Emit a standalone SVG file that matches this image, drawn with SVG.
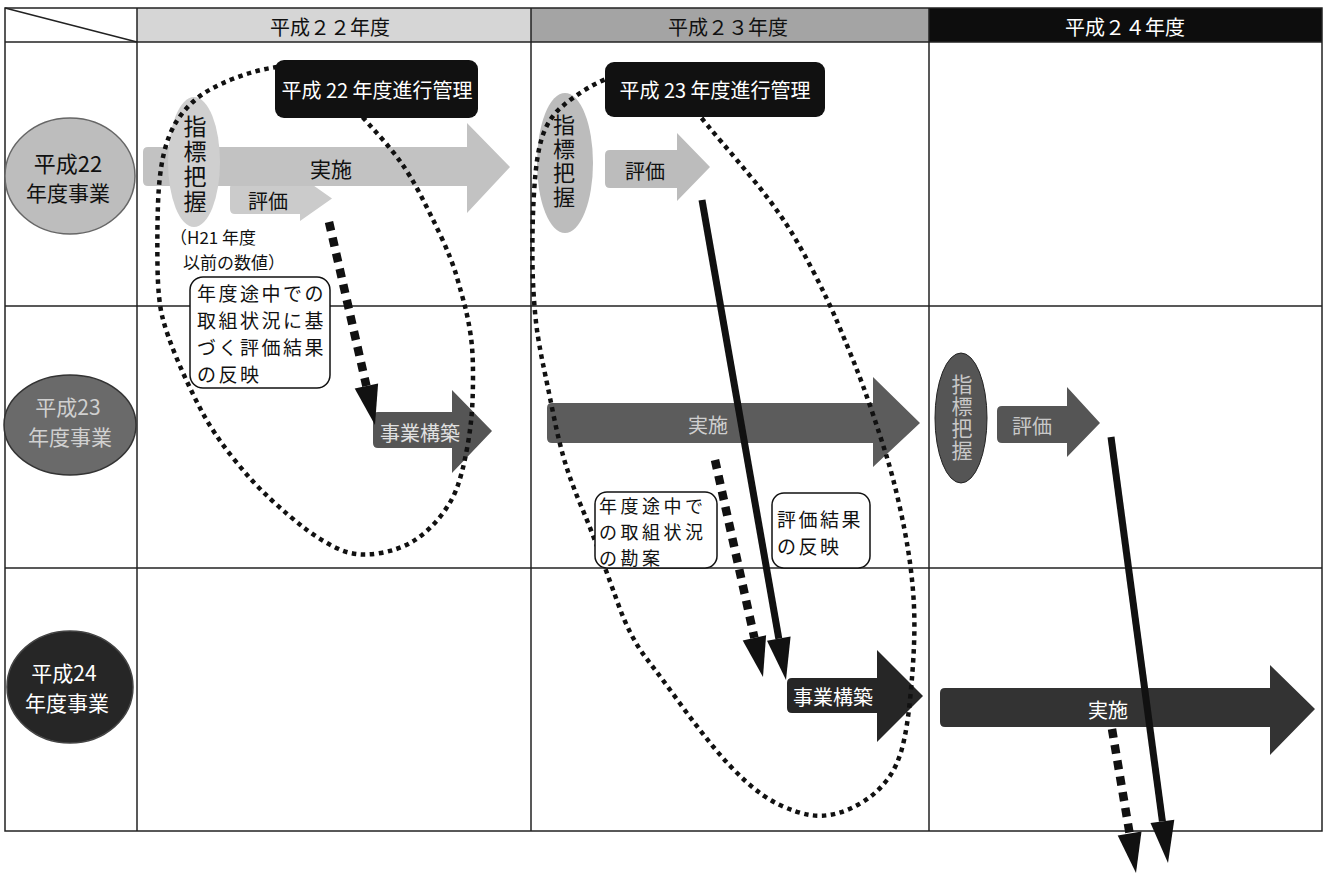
<svg xmlns="http://www.w3.org/2000/svg" width="1327" height="874" viewBox="0 0 1327 874">
<style>
text{font-family:"Noto Sans CJK JP","Noto Sans CJK SC",sans-serif;dominant-baseline:central}
.vert{writing-mode:vertical-rl;text-orientation:upright}
.grid{stroke:#222;stroke-width:1.5;fill:none}
.loop{fill:none;stroke:#111;stroke-width:4.5;stroke-dasharray:4.5 4.5}
.dash{stroke:#111;stroke-width:8.5;stroke-dasharray:9 7;fill:none}
.solid{stroke:#111;stroke-width:7;fill:none}
.head{fill:#111}
.callout{fill:#fff;stroke:#111;stroke-width:1.5}
.mgmt{fill:#111}
.t20{font-size:20px}
.t21{font-size:21px}
.c19{font-size:19px;letter-spacing:2.5px;fill:#111}
.c18{font-size:18px;letter-spacing:3.5px;fill:#111}
</style>
<rect x="0" y="0" width="1327" height="874" fill="#fff"/>
<g id="table">
<rect x="137" y="8" width="394" height="34" fill="#d6d6d6"/>
<rect x="531" y="8" width="398" height="34" fill="#a4a4a4"/>
<rect x="929" y="8" width="393" height="34" fill="#0d0d0d"/>
<rect x="5" y="8" width="1317" height="823" class="grid"/>
<line x1="5" y1="42" x2="1322" y2="42" class="grid"/>
<line x1="5" y1="306" x2="1322" y2="306" class="grid"/>
<line x1="5" y1="568" x2="1322" y2="568" class="grid"/>
<line x1="137" y1="8" x2="137" y2="831" class="grid"/>
<line x1="531" y1="8" x2="531" y2="831" class="grid"/>
<line x1="929" y1="8" x2="929" y2="831" class="grid"/>
<line x1="5" y1="8" x2="137" y2="42" class="grid"/>
<text x="330" y="26" text-anchor="middle" class="t20" fill="#111">平成２２年度</text>
<text x="728" y="26" text-anchor="middle" class="t20" fill="#111">平成２３年度</text>
<text x="1125" y="26" text-anchor="middle" class="t20" fill="#fff">平成２４年度</text>
</g>
<g id="row-h22">
<ellipse cx="70" cy="176" rx="65" ry="58" fill="#bdbdbd" stroke="#666" stroke-width="1.5"/>
<text x="68" y="162" text-anchor="middle" font-size="22" fill="#111">平成22</text>
<text x="68" y="192" text-anchor="middle" class="t21" fill="#111">年度事業</text>
</g>
<g id="row-h23">
<ellipse cx="70" cy="425" rx="66" ry="50" fill="#6a6a6a" stroke="#333" stroke-width="1.5"/>
<text x="68" y="406" text-anchor="middle" class="t21" fill="#d0d0d0">平成23</text>
<text x="70" y="436" text-anchor="middle" class="t21" fill="#d0d0d0">年度事業</text>
</g>
<g id="row-h24">
<ellipse cx="70" cy="687" rx="63" ry="56" fill="#262626" stroke="#444" stroke-width="1.5"/>
<text x="64" y="672" text-anchor="middle" class="t21" fill="#fff">平成24</text>
<text x="67" y="702" text-anchor="middle" class="t21" fill="#fff">年度事業</text>
</g>
<g id="h22-eval">
<path d="M235,183 L300,183 L300,176 L332,198.5 L300,221 L300,214 L235,214 Q230,214 230,209 L230,188 Q230,183 235,183 Z" fill="#cbcbcb"/>
<text x="268" y="200" text-anchor="middle" class="t20" fill="#111">評価</text>
</g>
<g id="h22-impl">
<path d="M148,147 L467,147 L467,123 L510,167 L467,213 L467,186 L148,186 Q143,186 143,181 L143,152 Q143,147 148,147 Z" fill="#c2c2c2"/>
<text x="331" y="168" text-anchor="middle" class="t21" fill="#111">実施</text>
</g>
<g id="h22-index">
<ellipse cx="194" cy="162" rx="26" ry="65" fill="#cfcfcf"/>
<text x="195" y="165" text-anchor="middle" class="vert" font-size="23" letter-spacing="2" fill="#111">指標把握</text>
</g>
<g id="h22-note">
<text x="170" y="236" font-size="17" fill="#111">（H21 年度</text>
<text x="183" y="261" font-size="17" fill="#111">以前の数値）</text>
</g>
<g id="h23-index">
<ellipse cx="565" cy="163" rx="28" ry="70" fill="#bcbcbc"/>
<text x="564" y="162" text-anchor="middle" class="vert" font-size="22" letter-spacing="2" fill="#111">指標把握</text>
</g>
<g id="h23-eval">
<path d="M610,150 L677,150 L677,133 L710,167 L677,201 L677,188 L610,188 Q605,188 605,183 L605,155 Q605,150 610,150 Z" fill="#bcbcbc"/>
<text x="645" y="170" text-anchor="middle" class="t20" fill="#111">評価</text>
</g>
<g id="h22-build">
<path d="M378,412 L452,412 L452,390 L492,431 L452,473 L452,448 L378,448 Q373,448 373,443 L373,417 Q373,412 378,412 Z" fill="#555"/>
<text x="420" y="432" text-anchor="middle" class="t20" fill="#e0e0e0">事業構築</text>
</g>
<g id="h23-impl">
<path d="M552,403 L873,403 L873,377 L920,423 L873,467 L873,443 L552,443 Q547,443 547,438 L547,408 Q547,403 552,403 Z" fill="#5c5c5c"/>
<text x="708" y="424" text-anchor="middle" class="t20" fill="#cfcfcf">実施</text>
</g>
<g id="h24-index">
<ellipse cx="961" cy="418" rx="26" ry="65" fill="#555" stroke="#222" stroke-width="1"/>
<text x="962" y="418" text-anchor="middle" class="vert" font-size="21" letter-spacing="1" fill="#c8c8c8">指標把握</text>
</g>
<g id="h24-eval">
<path d="M1002,406 L1067,406 L1067,387 L1100,423 L1067,457 L1067,443 L1002,443 Q997,443 997,438 L997,411 Q997,406 1002,406 Z" fill="#555"/>
<text x="1032" y="425" text-anchor="middle" class="t20" fill="#c8c8c8">評価</text>
</g>
<g id="h23-build">
<path d="M792,678 L877,678 L877,650 L923,696 L877,742 L877,713 L792,713 Q787,713 787,708 L787,683 Q787,678 792,678 Z" fill="#262626"/>
<text x="833" y="696" text-anchor="middle" class="t20" fill="#fff">事業構築</text>
</g>
<g id="h24-impl">
<path d="M945,688 L1270,688 L1270,665 L1315,709 L1270,755 L1270,727 L945,727 Q940,727 940,722 L940,693 Q940,688 945,688 Z" fill="#333"/>
<text x="1108" y="709" text-anchor="middle" class="t20" fill="#fff">実施</text>
</g>
<g id="connectors">
<path class="loop" d="M277.5,67 Q255,70 232.5,79 Q210,88 197.5,98 Q185,108 176.5,121.5 Q168,135 163.5,155 Q159,175 158,204 Q157,233 157.5,266.5 Q158,300 162.5,317.5 Q167,335 177,359 Q187,383 200,408 Q213,433 233,458 Q253,483 271.5,500 Q290,517 305,528.5 Q320,540 337.5,548.5 Q355,557 377.5,553.5 Q400,550 415,540 Q430,530 441.5,515 Q453,500 458,485 Q463,470 466.5,451.5 Q470,433 471.5,416.5 Q473,400 473,375 Q473,350 470.5,334 Q468,318 465,306.5 Q462,295 457,277.5 Q452,260 441,236.5 Q430,213 420,194 Q410,175 401,162.5 Q392,150 379.5,136 Q367,122 353.5,107 Q340,92 330,82 Q320,72 310,68 Q300,64 277.5,67 Z"/>
<path class="loop" d="M621.5,73.5 Q603,79 588,88 Q573,97 561.5,107 Q550,117 544,132 Q538,147 535.5,173.5 Q533,200 532.5,233.5 Q532,267 533.5,292 Q535,317 537.5,333.5 Q540,350 543.5,366.5 Q547,383 553.5,415 Q560,447 566.5,467 Q573,487 581.5,507 Q590,527 598.5,550 Q607,573 618.5,605 Q630,637 646.5,658.5 Q663,680 680,703.5 Q697,727 713.5,747 Q730,767 746.5,782 Q763,797 780,805 Q797,813 810,815 Q823,817 836.5,813.5 Q850,810 863.5,801.5 Q877,793 887,780 Q897,767 902,748.5 Q907,730 910,700 Q913,670 914,645 Q915,620 913.5,597.5 Q912,575 908.5,552.5 Q905,530 899,503.5 Q893,477 886.5,456 Q880,435 871.5,410 Q863,385 855,365 Q847,345 837.5,322.5 Q828,300 812.5,270 Q797,240 783.5,220 Q770,200 753.5,180 Q737,160 722,142.5 Q707,125 696,111 Q685,97 675,87.5 Q665,78 652.5,73 Q640,68 621.5,73.5 Z"/>
<line class="dash" x1="329" y1="222" x2="366.4" y2="386"/>
<polygon class="head" points="378.1,383.4 375,425 354.7,388.6"/>
<line class="dash" x1="715" y1="460" x2="754.4" y2="637.9"/>
<polygon class="head" points="766.1,635.3 763,677 742.7,640.5"/>
<line class="solid" x1="702" y1="200" x2="778.8" y2="638.6"/>
<polygon class="head" points="790.6,636.5 786,680 767,640.7"/>
<line class="solid" x1="1111" y1="437" x2="1162.4" y2="821.4"/>
<polygon class="head" points="1174.3,819.8 1168,863 1150.5,823"/>
<line class="dash" x1="1112" y1="729" x2="1129.6" y2="833.5"/>
<polygon class="head" points="1141.5,831.6 1136,873 1117.7,835.4"/>
</g>
<g id="h22-mgmt">
<rect x="275" y="60" width="203" height="58" rx="9" class="mgmt"/>
<text x="377" y="89" text-anchor="middle" class="t20" fill="#fff">平成 22 年度進行管理</text>
</g>
<g id="h23-mgmt">
<rect x="605" y="62" width="220" height="55" rx="9" class="mgmt"/>
<text x="715" y="89" text-anchor="middle" class="t20" fill="#fff">平成 23 年度進行管理</text>
</g>
<g id="h22-callout">
<rect x="190" y="277" width="140" height="111" rx="13" class="callout"/>
<text x="197" y="292" class="c19">年度途中での</text>
<text x="197" y="319" class="c19">取組状況に基</text>
<text x="197" y="346" class="c19">づく評価結果</text>
<text x="197" y="373" class="c19">の反映</text>
</g>
<g id="h23-callout-1">
<rect x="595" y="492" width="122" height="76" rx="12" class="callout"/>
<text x="599" y="505" class="c18">年度途中で</text>
<text x="599" y="531" class="c18">の取組状況</text>
<text x="599" y="557" class="c18">の勘案</text>
</g>
<g id="h23-callout-2">
<rect x="772" y="493" width="98" height="75" rx="12" class="callout"/>
<text x="777" y="518" class="c19">評価結果</text>
<text x="777" y="545" class="c19">の反映</text>
</g>
</svg>
